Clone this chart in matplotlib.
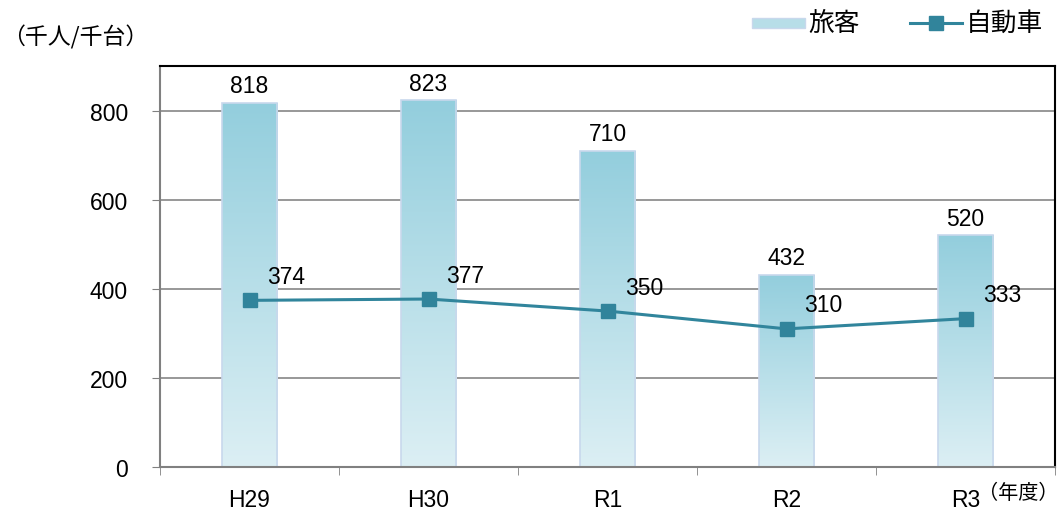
import matplotlib
matplotlib.use("Agg")
import matplotlib.pyplot as plt
import numpy as np
from matplotlib.patches import Rectangle
from matplotlib.lines import Line2D
from matplotlib.colors import LinearSegmentedColormap

plt.rcParams['font.family'] = ['Liberation Sans', 'Noto Sans CJK JP', 'DejaVu Sans']

categories = ["H29", "H30", "R1", "R2", "R3"]
passengers = [818, 823, 710, 432, 520]
vehicles = [374, 377, 350, 310, 333]
yticks = [0, 200, 400, 600, 800]

FS = 16.5
JP = ['Noto Sans CJK JP', 'DejaVu Sans']

fig = plt.figure(figsize=(10.59, 5.10), dpi=100)
ax = fig.add_axes([160/1059, 42/510, (1055-160)/1059, (468-67)/510])

x = np.arange(len(categories))
bw = 0.31
bars = ax.bar(x, passengers, width=bw, color='none', edgecolor='#C8D8EC', linewidth=1.2, zorder=2)
cmap = LinearSegmentedColormap.from_list('g', ['#DCEFF4', '#93CEDD'])
grad = np.linspace(0, 1, 256).reshape(-1, 1)
for b in bars:
    x0, w, h = b.get_x(), b.get_width(), b.get_height()
    im = ax.imshow(grad, extent=[x0, x0 + w, 0, h], origin='lower', cmap=cmap,
                   aspect='auto', zorder=1.5)
    im.set_clip_path(b)

ax.plot(x, vehicles, color='#31859C', linewidth=2.2, marker='s', markersize=10,
        markerfacecolor='#31849B', markeredgecolor='#31849B', zorder=3)

for xi, v in zip(x, passengers):
    ax.annotate(str(v), (xi, v), xytext=(0, 4), textcoords='offset points',
                ha='center', va='bottom', fontsize=FS)
for xi, v in zip(x, vehicles):
    ax.annotate(str(v), (xi, v), xytext=(13, 9), textcoords='offset points',
                ha='left', va='bottom', fontsize=FS)

ax.set_xlim(-0.5, len(categories) - 0.5)
ax.set_ylim(0, 900)
ax.set_yticks(yticks)
ax.set_yticklabels([str(t) for t in yticks], fontsize=FS)
ax.set_xticks(x)
ax.set_xticklabels(categories, fontsize=FS)
ax.tick_params(axis='x', length=0, pad=15)
ax.set_xticks(np.arange(-0.5, len(categories)), minor=True)
ax.tick_params(axis='x', which='minor', length=6, color='#808080', direction='out')
ax.tick_params(axis='y', length=6, color='#808080', direction='out', pad=17)
ax.grid(axis='y', color='#868686', linewidth=1.2, zorder=0)
ax.set_axisbelow(True)
for s in ['left', 'bottom']:
    ax.spines[s].set_color('#808080')
    ax.spines[s].set_linewidth(1.5)
for s in ['top', 'right']:
    ax.spines[s].set_color('black')
    ax.spines[s].set_linewidth(1.5)

fig.text(2/1059, 1 - 37/510, '（千人/千台）', fontsize=16.5, va='center', ha='left', family=JP)
fig.text(1059/1059, 1 - 494/510, '（年度）', fontsize=14.5, va='center', ha='right', family=JP)

# legend
leg_ax = fig.add_axes([0, 0, 1, 1], facecolor='none')
leg_ax.set_xlim(0, 1059)
leg_ax.set_ylim(510, 0)
leg_ax.axis('off')
leg_ax.add_patch(Rectangle((752, 19), 53, 10, facecolor='#B7DEE8', edgecolor='#C8D8EC', lw=1))
leg_ax.text(808, 24, '旅客', fontsize=18.5, va='center', ha='left', family=JP)
leg_ax.add_line(Line2D([910, 962], [24, 24], color='#31859C', lw=2.2))
leg_ax.plot([936], [24], marker='s', markersize=10, color='#31849B')
leg_ax.text(966, 24, '自動車', fontsize=18.5, va='center', ha='left', family=JP)

fig.savefig('out.png', dpi=100)
